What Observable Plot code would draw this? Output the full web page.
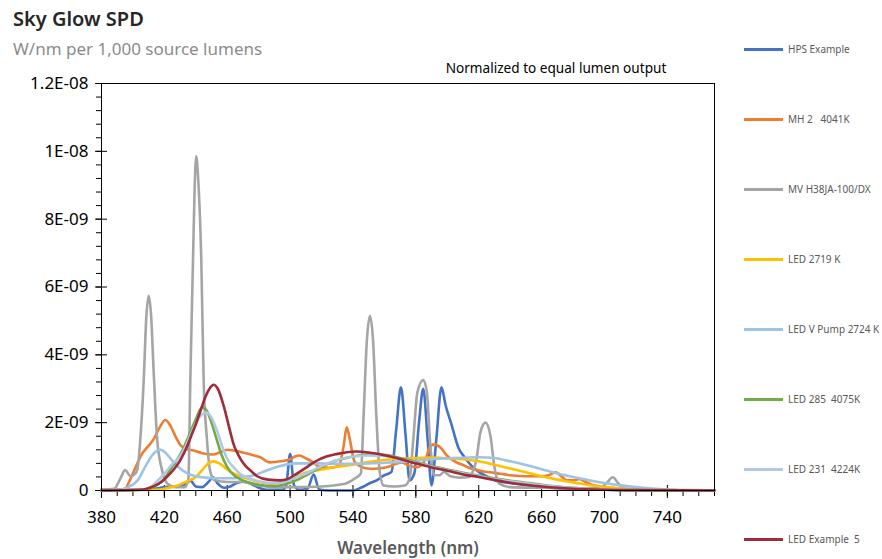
<!DOCTYPE html>
<html>
<head>
<meta charset="utf-8">
<script src="https://cdn.jsdelivr.net/npm/d3@7"></script>
<script src="https://cdn.jsdelivr.net/npm/@observablehq/plot@0.6"></script>
<style>
  body { margin: 0; background: #fff; font-family: "Noto Sans", sans-serif; }
  #wrap { position: relative; width: 882px; height: 559px; overflow: hidden; background: #fff; }
  #wrap svg { position: absolute; left: 0; top: 0; }
  .t { position: absolute; white-space: pre; line-height: 1; }
  #title { left: 13px; top: 9px; font-size: 20px; font-weight: 600; color: #262626; }
  #subtitle { left: 13px; top: 40px; font-size: 17px; color: #8c8c8c; }
  #note { left: 556px; top: 61px; font-size: 13.6px; color: #000; transform: translateX(-50%); }
  #xlabel { left: 408px; top: 539px; font-size: 17px; font-weight: 600; color: #595959; transform: translateX(-50%); }
  .leg { position: absolute; left: 744px; height: 12px; display: flex; align-items: center; font-size: 10px; color: #595959; white-space: pre; }
  .leg i { display: inline-block; width: 39px; height: 3px; margin-right: 5px; }
</style>
</head>
<body>
<div id="wrap">
  <div class="t" id="title">Sky Glow SPD</div>
  <div class="t" id="subtitle">W/nm per 1,000 source lumens</div>
  <div class="t" id="note">Normalized to equal lumen output</div>
  <div class="t" id="xlabel">Wavelength (nm)</div>
</div>
<script>
// Values: [wavelength nm, spectral power in units of 1E-09 W/nm per 1,000 source lumens]
const UNIT = 1e-9;

const hpsExample = [[380,0.02],[400,0.02],[410,0.04],[415,0.06],[420,0.1],[425,0.12],[430,0.12],[433,0.18],[436.5,0.29],[440,0.12],[444,0.1],[448,0.25],[451,0.39],[454,0.2],[458,0.08],[462,0.12],[466,0.22],[470,0.27],[475,0.2],[480,0.08],[485,0.02],[495,0.02],[497.5,0.15],[500,1.08],[502.5,0.15],[506,0.02],[511,0.05],[515,0.47],[518.5,0.03],[525,0],[540,0],[545,0.08],[550,0.2],[555,0.3],[560,0.45],[564.5,0.55],[567.5,1.8],[570.5,3.04],[573.5,1.6],[576,0.3],[579,0.5],[582,2.0],[584.7,3.0],[587.5,1.5],[590,0.15],[593,1.5],[596.3,3.04],[599,2.5],[602.6,1.96],[607,1.27],[611,0.98],[615,0.75],[620,0.55],[625,0.42],[631,0.29],[640,0.22],[652,0.15],[665,0.08],[680,0.05],[700,0.02],[720,0.01],[770,0]];

const mh2 = [[380,0.02],[390,0.02],[395,0.05],[398,0.3],[402.6,0.78],[406,1.1],[409,1.27],[413,1.5],[417,1.86],[420.6,2.08],[424,1.9],[427,1.6],[430,1.35],[434,1.22],[438.6,1.18],[444,1.1],[451,1.06],[455,1.12],[460,1.2],[465,1.17],[470,1.12],[476,1.05],[481,0.98],[487,0.83],[494,0.86],[500,0.92],[503,1.0],[506,1.03],[510,0.95],[514,0.85],[519,0.69],[525,0.67],[531,0.72],[534,1.3],[536,1.86],[538,1.5],[541,0.85],[545,0.7],[551,0.64],[556,0.65],[562,0.69],[567,0.78],[571,0.83],[576,0.72],[581,0.69],[586,0.9],[589,1.3],[592,1.36],[596,1.25],[600,1.02],[605,0.85],[610,0.75],[615,0.65],[622,0.57],[630,0.52],[640,0.45],[650,0.42],[660,0.42],[665,0.46],[669,0.54],[673,0.4],[676,0.3],[680,0.3],[684,0.34],[688,0.25],[692,0.17],[700,0.1],[710,0.05],[720,0.02],[740,0],[770,0]];

const mvH38 = [[380,0.02],[388,0.05],[392,0.35],[395,0.6],[398.5,0.42],[401.5,0.5],[402.7,0.6],[404.8,1.57],[406.9,3.3],[408.5,5.1],[410,5.74],[411.5,5.2],[413.2,3.5],[415.3,1.57],[418.5,0.6],[422,0.2],[427,0.1],[433,0.1],[435.3,0.35],[436.5,3.24],[438.2,6.76],[439.3,9.0],[440.3,9.85],[441.5,9.2],[443.5,6.76],[445,3.24],[447,1.57],[449,0.6],[452,0.3],[460,0.25],[470,0.25],[480,0.15],[490,0.1],[505,0.1],[520,0.12],[535,0.2],[541,0.35],[545,0.5],[546.8,2.26],[548.8,4.4],[550.8,5.15],[552.8,4.4],[554.8,2.26],[557,0.55],[559.5,0.15],[566,0.12],[573,0.15],[576,0.35],[578.3,1.47],[581,2.9],[584.7,3.26],[587,2.9],[589,1.47],[591.5,0.45],[595,0.45],[598,0.55],[602,0.42],[608,0.38],[614,0.4],[616.5,0.6],[618.5,0.9],[621,1.7],[624.3,2.0],[627.5,1.6],[630,0.69],[633,0.2],[640,0.1],[660,0.08],[680,0.06],[697,0.08],[701,0.2],[705.3,0.39],[709,0.2],[713,0.06],[730,0.02],[770,0]];

const led2719 = [[380,0],[415,0.02],[420,0.05],[425,0.1],[430,0.18],[435,0.28],[440,0.4],[444,0.6],[448,0.8],[451,0.86],[455,0.8],[460,0.62],[465,0.48],[472,0.36],[481,0.25],[489,0.2],[493,0.22],[498,0.29],[504,0.4],[510,0.53],[518,0.6],[527,0.68],[540,0.76],[550,0.84],[560,0.9],[570,0.93],[580,0.96],[590,0.97],[600,0.95],[610,0.92],[620,0.86],[630,0.76],[640,0.65],[650,0.54],[660,0.42],[670,0.32],[680,0.24],[690,0.16],[700,0.1],[710,0.06],[720,0.03],[740,0.01],[770,0]];

const ledVPump = [[380,0],[392,0.02],[397,0.1],[403,0.3],[409,0.8],[413,1.08],[417.5,1.2],[421,1.1],[425,0.88],[430,0.65],[435,0.5],[440,0.42],[446,0.38],[452,0.36],[463,0.36],[470,0.4],[477,0.45],[485,0.59],[492,0.7],[498,0.77],[505,0.8],[515,0.8],[530,0.79],[545,0.79],[560,0.82],[575,0.86],[590,0.92],[605,0.96],[620,0.98],[630,0.96],[640,0.86],[650,0.75],[660,0.63],[670,0.5],[680,0.4],[690,0.3],[700,0.22],[710,0.15],[720,0.1],[730,0.06],[740,0.03],[755,0.01],[770,0]];

const led285 = [[380,0],[405,0.02],[410,0.05],[415,0.15],[420,0.35],[425,0.7],[430,1.05],[435,1.55],[440,2.1],[444,2.45],[447,2.35],[450,2.0],[453,1.55],[456,1.1],[460,0.69],[465,0.42],[470,0.3],[477,0.2],[485,0.14],[490,0.13],[498,0.2],[505,0.32],[511,0.47],[520,0.7],[528,0.86],[540,1.0],[550,1.07],[560,1.05],[570,0.96],[580,0.84],[590,0.72],[600,0.62],[610,0.52],[620,0.44],[630,0.36],[640,0.29],[650,0.23],[660,0.17],[670,0.12],[680,0.08],[700,0.03],[720,0.01],[770,0]];

const led231 = [[380,0],[408,0.03],[413,0.17],[417,0.35],[421,0.55],[425,0.78],[430,1.0],[434,1.35],[438.6,1.85],[443,2.2],[447,2.3],[450,2.15],[454,1.7],[457.7,1.18],[461,0.85],[464,0.69],[468,0.5],[472.5,0.39],[480,0.27],[488,0.22],[495,0.24],[502,0.35],[510,0.5],[520,0.72],[530,0.9],[540,1.0],[550,1.03],[560,1.02],[570,0.93],[580,0.82],[590,0.7],[600,0.6],[610,0.5],[620,0.42],[630,0.34],[640,0.27],[650,0.21],[660,0.15],[670,0.11],[680,0.07],[700,0.03],[720,0.01],[770,0]];

const ledExample5 = [[380,0],[405,0.02],[413,0.12],[418,0.25],[422,0.42],[426,0.62],[430,0.88],[434,1.25],[437,1.6],[440,1.95],[443,2.35],[446,2.75],[449,3.02],[451.3,3.12],[454,3.0],[457.7,2.5],[461,1.9],[464,1.37],[467,1.05],[470.6,0.78],[475.7,0.55],[479,0.42],[486,0.32],[494,0.3],[498,0.33],[503,0.46],[510.6,0.69],[514,0.8],[523,1.0],[530,1.08],[536,1.13],[542,1.15],[550,1.12],[560,1.04],[570,0.93],[580,0.8],[590,0.68],[600,0.58],[610,0.47],[620,0.4],[630,0.31],[640,0.23],[650,0.17],[660,0.12],[670,0.08],[680,0.05],[700,0.02],[720,0.01],[770,0]];

const seriesNames = ["HPS Example", "MH 2   4041K", "MV H38JA-100/DX", "LED 2719 K", "LED V Pump 2724 K", "LED 285  4075K", "LED 231  4224K", "LED Example  5"];
const seriesColors = ["#4472C4", "#ED7D31", "#A5A5A5", "#FFC000", "#9DC3E6", "#70AD47", "#B4C7E7", "#A02B3A"];
const seriesData = [hpsExample, mh2, mvH38, led2719, ledVPump, led285, led231, ledExample5];

const xMajorTicks = [380, 420, 460, 500, 540, 580, 620, 660, 700, 740];
const xMinorTicks = d3.range(380, 771, 10);
const yMajorTicks = [0, 2e-9, 4e-9, 6e-9, 8e-9, 1e-8, 1.2e-8];
const yMinorTicks = d3.range(0, 31).map(i => i * 4e-10);

const rows = seriesData.flatMap((s, i) => s.map(([w, v]) => ({series: seriesNames[i], w, v: v * UNIT})));

function sci(v) {
  if (Math.abs(v) < 1e-15) return "0";
  const e = Math.floor(Math.log10(v) + 1e-9);
  const m = +(v / Math.pow(10, e)).toFixed(2);
  return m + "E-" + String(-e).padStart(2, "0");
}
const blank = () => "";

const chart = Plot.plot({
  width: 882,
  height: 559,
  marginLeft: 101,
  marginRight: 168,
  marginTop: 83,
  marginBottom: 69,
  style: {fontFamily: '"Noto Sans", sans-serif', fontSize: "17px", color: "#000", background: "transparent"},
  x: {domain: [380, 770]},
  y: {domain: [0, 1.2e-8]},
  color: {domain: seriesNames, range: seriesColors},
  marks: [
    Plot.axisY({ticks: yMinorTicks, tickSize: 5, tickFormat: blank, label: null}),
    Plot.axisY({ticks: yMajorTicks, tickSize: 6, tickPadding: 7, tickFormat: sci, label: null}),
    Plot.axisY({ticks: yMajorTicks, tickSize: 6, dx: 6, tickFormat: blank, label: null}),
    Plot.axisX({ticks: xMinorTicks, tickSize: 6, tickFormat: blank, label: null}),
    Plot.axisX({ticks: xMajorTicks, tickSize: 8, tickPadding: 12, tickFormat: d => String(d), label: null}),
    Plot.axisX({ticks: xMajorTicks, tickSize: 5, dy: -5, tickFormat: blank, label: null}),
    Plot.line(rows, {x: "w", y: "v", z: "series", stroke: "series", strokeWidth: 2.6, curve: "monotone-x", strokeLinejoin: "round"}),
    Plot.frame({stroke: "#000"})
  ]
});

const wrap = document.getElementById("wrap");
wrap.insertBefore(chart, wrap.firstChild);

seriesNames.forEach((name, i) => {
  const d = document.createElement("div");
  d.className = "leg";
  d.style.top = (43 + i * 70) + "px";
  const sw = document.createElement("i");
  sw.style.background = seriesColors[i];
  d.appendChild(sw);
  d.appendChild(document.createTextNode(name));
  wrap.appendChild(d);
});
</script>
</body>
</html>
